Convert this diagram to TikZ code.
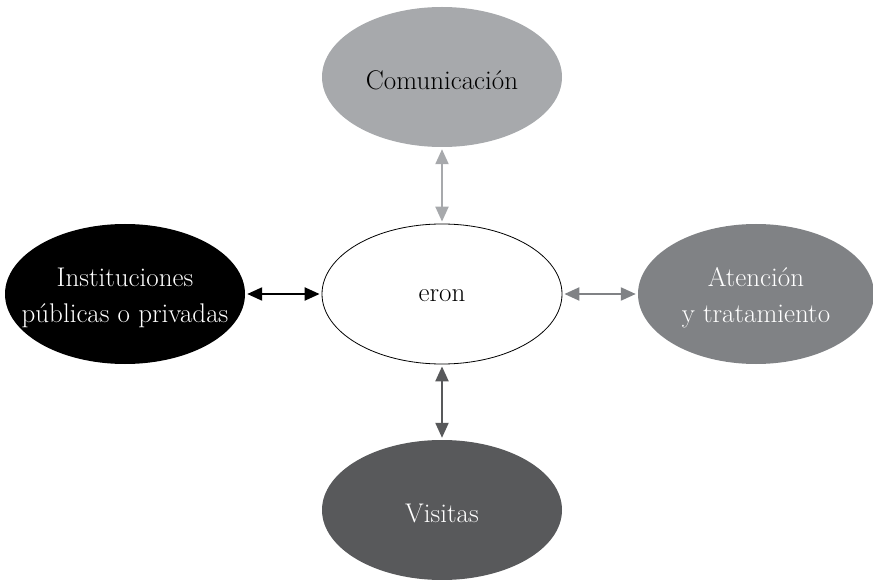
\documentclass[tikz,border=0pt]{standalone}
\usepackage{fontspec}
\setmainfont{Latin Modern Roman}
\usetikzlibrary{shapes.geometric,arrows.meta}
\definecolor{lightg}{HTML}{A7A9AC}
\definecolor{midg}{HTML}{808285}
\definecolor{darkg}{HTML}{58595B}
\tikzset{
  bubble/.style={ellipse, minimum width=240pt, minimum height=140pt, inner sep=0pt},
  txt/.style={align=center, inner sep=0pt, font=\fontsize{27}{36}\selectfont},
  link/.style={line width=2.2pt, {Triangle[length=15pt,width=13pt]}-{Triangle[length=15pt,width=13pt]},
    shorten <=2pt, shorten >=2pt}
}
\begin{document}
\begin{tikzpicture}[x=1pt,y=-1pt]
\useasboundingbox (0,0) rectangle (873,580);
\node[bubble, draw=black, line width=0.8pt, fill=white] (c) at (442,294) {};
\node[bubble, fill=lightg] (t) at (442,77) {};
\node[bubble, fill=black] (l) at (125,294) {};
\node[bubble, fill=midg, minimum width=236pt] (r) at (756,294) {};
\node[bubble, fill=darkg] (b) at (442,510) {};
\node[txt, text=black] (ct) at ([yshift=-2pt]c.center) {eron};
\node[txt, text=black] (tt) at ([yshift=-3pt]t.center) {Comunicación};
\node[txt, text=white] (lt) at ([yshift=-4pt]l.center) {Instituciones\\públicas o privadas};
\node[txt, text=white] (rt) at ([yshift=-4pt]r.center) {Atención\\y tratamiento};
\node[txt, text=white] (bt) at ([yshift=-3pt]b.center) {Visitas};
\draw[link, lightg] (t) -- (c);
\draw[link, black] (l) -- (c);
\draw[link, midg] (c) -- (r);
\draw[link, darkg] (c) -- (b);
\end{tikzpicture}
\end{document}
